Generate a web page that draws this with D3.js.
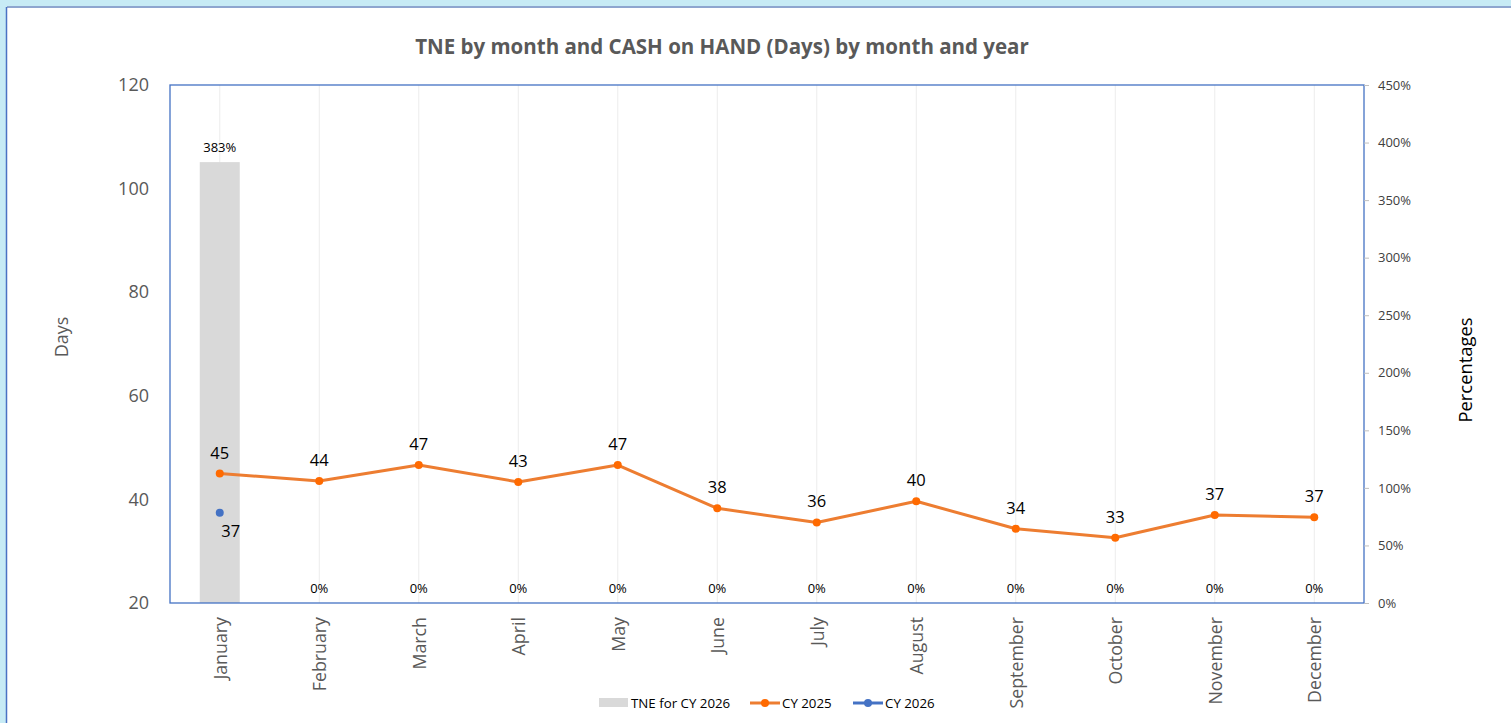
<!DOCTYPE html>
<html><head><meta charset="utf-8">
<script src="https://cdn.jsdelivr.net/npm/d3@7"></script>
<style>
body{margin:0;background:#c7ebf5;overflow:hidden;}
svg{display:block;}
text{font-family:"Open Sans",sans-serif;}
</style></head>
<body>
<svg id="chart" width="1511" height="723"></svg>
<script>
const months = ["January","February","March","April","May","June","July","August","September","October","November","December"];
const tne2026 = [3.83,0,0,0,0,0,0,0,0,0,0,0];
const cy2025 = [45.0,43.55,46.64,43.36,46.64,38.28,35.55,39.63,34.34,32.61,36.99,36.54];
const cy2026 = [37.43];
const leftTicks = [20,40,60,80,100,120];
const rightTicks = [0,0.5,1,1.5,2,2.5,3,3.5,4,4.5];

const FONT = '"Open Sans",sans-serif';
const svg = d3.select("#chart");
// card
svg.append("rect").attr("x",7).attr("y",7).attr("width",1520).attr("height",730).attr("fill","#fff");
svg.append("line").attr("x1",7).attr("x2",1511).attr("y1",7).attr("y2",7).attr("stroke","#8ea6cf").attr("stroke-width",2);
svg.append("line").attr("x1",6.5).attr("x2",6.5).attr("y1",7).attr("y2",723).attr("stroke","#4a72c4").attr("stroke-width",1.5);

const m = {l:170, r:1364, t:85, b:603};
const x = d3.scaleBand().domain(months).range([m.l,m.r]);
const yL = d3.scaleLinear().domain([20,120]).range([m.b,m.t]);
const yR = d3.scaleLinear().domain([0,4.5]).range([m.b,m.t]);

// gridlines
svg.append("g").selectAll("line").data(months).join("line")
  .attr("x1",d=>x(d)+x.bandwidth()/2).attr("x2",d=>x(d)+x.bandwidth()/2)
  .attr("y1",m.t).attr("y2",m.b).attr("stroke","#ececec").attr("stroke-width",1);

// bars
const bw = 40;
svg.append("g").selectAll("rect").data(tne2026).join("rect")
  .attr("x",(d,i)=>x(months[i])+x.bandwidth()/2-bw/2)
  .attr("width",bw)
  .attr("y",d=>yR(d)).attr("height",d=>m.b-yR(d))
  .attr("fill","#d9d9d9");
svg.append("g").selectAll("text").data(tne2026).join("text")
  .attr("x",(d,i)=>x(months[i])+x.bandwidth()/2)
  .attr("y",d=>yR(d)-10)
  .attr("text-anchor","middle").attr("font-size",13).attr("fill","#000")
  .text(d=>Math.round(d*100)+"%");

// plot border
svg.append("rect").attr("x",m.l).attr("y",m.t).attr("width",m.r-m.l).attr("height",m.b-m.t)
  .attr("fill","none").attr("stroke","#4472c4").attr("stroke-width",1.3);

// left axis
const gL = svg.append("g").attr("transform",`translate(${m.l},0)`)
  .call(d3.axisLeft(yL).tickValues(leftTicks).tickSize(0).tickPadding(21));
gL.select(".domain").remove();
gL.selectAll("text").attr("font-size",18).attr("fill","#595959").attr("font-family",FONT);

// right axis
const gR = svg.append("g").attr("transform",`translate(${m.r},0)`)
  .call(d3.axisRight(yR).tickValues(rightTicks).tickSize(5).tickPadding(9).tickFormat(d=>Math.round(d*100)+"%"));
gR.select(".domain").remove();
gR.selectAll("line").attr("stroke","#bfbfbf");
gR.selectAll("text").attr("font-size",13).attr("fill","#404040").attr("font-family",FONT);

// x axis labels
const gX = svg.append("g").attr("transform",`translate(0,${m.b})`)
  .call(d3.axisBottom(x).tickSize(0).tickPadding(0));
gX.select(".domain").remove();
gX.selectAll("text").attr("font-size",17.8).attr("fill","#595959").attr("font-family",FONT)
  .attr("text-anchor","end").attr("dy","0.35em")
  .attr("transform","translate(1,14) rotate(-90)").attr("x",0).attr("y",0);

// orange line
const line = d3.line().x((d,i)=>x(months[i])+x.bandwidth()/2).y(d=>yL(d));
svg.append("path").datum(cy2025).attr("d",line).attr("fill","none")
  .attr("stroke","#ed7d31").attr("stroke-width",3).attr("stroke-linejoin","round");
svg.append("g").selectAll("circle").data(cy2025).join("circle")
  .attr("cx",(d,i)=>x(months[i])+x.bandwidth()/2).attr("cy",d=>yL(d)).attr("r",4).attr("fill","#ff6a00");
svg.append("g").selectAll("text").data(cy2025).join("text")
  .attr("x",(d,i)=>x(months[i])+x.bandwidth()/2).attr("y",d=>yL(d)-15)
  .attr("text-anchor","middle").attr("font-size",16.5).attr("fill","#000").text(d=>Math.round(d));

// blue
svg.append("g").selectAll("circle").data(cy2026).join("circle")
  .attr("cx",(d,i)=>x(months[i])+x.bandwidth()/2).attr("cy",d=>yL(d)).attr("r",4).attr("fill","#4472c4");
svg.append("g").selectAll("text").data(cy2026).join("text")
  .attr("x",(d,i)=>x(months[i])+x.bandwidth()/2+11).attr("y",d=>yL(d)+24)
  .attr("text-anchor","middle").attr("font-size",16.5).attr("fill","#000").text(d=>Math.round(d));

// title
svg.append("text").attr("x",722).attr("y",54).attr("text-anchor","middle")
  .attr("font-size",20.5).attr("font-weight","bold").attr("fill","#595959")
  .text("TNE by month and CASH on HAND (Days) by month and year");

// axis titles
svg.append("text").attr("transform","translate(68,337) rotate(-90)").attr("text-anchor","middle")
  .attr("font-size",18).attr("fill","#595959").text("Days");
svg.append("text").attr("transform","translate(1472,370) rotate(-90)").attr("text-anchor","middle")
  .attr("font-size",18.4).attr("fill","#000").text("Percentages");

// legend
const lg = svg.append("g").attr("font-size",13.3);
lg.append("rect").attr("x",599).attr("y",698).attr("width",29).attr("height",9).attr("fill","#d9d9d9");
lg.append("text").attr("x",631).attr("y",707.5).attr("fill","#000").text("TNE for CY 2026");
lg.append("line").attr("x1",750).attr("x2",780).attr("y1",703).attr("y2",703).attr("stroke","#ed7d31").attr("stroke-width",3);
lg.append("circle").attr("cx",765).attr("cy",703).attr("r",4).attr("fill","#ff6a00");
lg.append("text").attr("x",782).attr("y",707.5).attr("fill","#000").text("CY 2025");
lg.append("line").attr("x1",853).attr("x2",883).attr("y1",703).attr("y2",703).attr("stroke","#4472c4").attr("stroke-width",3);
lg.append("circle").attr("cx",868).attr("cy",703).attr("r",4).attr("fill","#4472c4");
lg.append("text").attr("x",885).attr("y",707.5).attr("fill","#000").text("CY 2026");
</script>
</body></html>
